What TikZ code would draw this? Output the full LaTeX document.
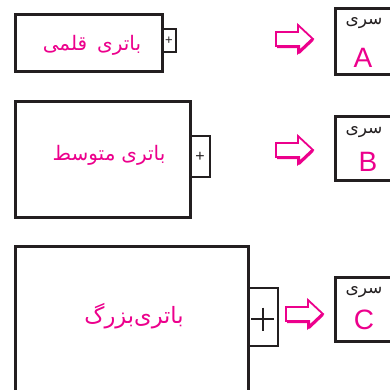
\documentclass[tikz,border=0pt]{standalone}
\usepackage{fontspec}
\setmainfont{Liberation Sans}
\newfontfamily\fa[Script=Arabic]{DejaVu Sans}
\TeXXeTstate=1
\definecolor{pinkc}{RGB}{236,0,140}
\definecolor{inkc}{RGB}{35,31,32}
\tikzset{
  batbox/.style={draw=inkc,line width=3pt},
  termbox/.style={draw=inkc,line width=2.6pt},
  seribox/.style={draw=inkc,line width=3pt},
  pinktext/.style={text=pinkc,font=\fa\fontsize{20}{24}\selectfont,inner sep=0pt},
  seritext/.style={text=inkc,font=\fa\fontsize{17}{20}\selectfont,inner sep=0pt},
  lettertext/.style={text=pinkc,font=\fontsize{28}{30}\selectfont,inner sep=0pt},
  plustext/.style={text=inkc,inner sep=0pt},
  arrowline/.style={draw=pinkc,line width=1.8pt,line join=miter},
  arrowshade/.style={draw=pinkc,line width=3.2pt,line join=miter}
}
\begin{document}
\begin{tikzpicture}[x=1pt,y=-1pt]
\useasboundingbox (0,0) rectangle (390,389);
\clip (0,0) rectangle (390,389);
% batteries
\draw[batbox] (15,14) rectangle (162,71);
\draw[termbox] (162,29) rectangle (176,52);
\node[plustext,font=\fontsize{13}{14}\selectfont] (p1) at (169,40.5) {+};
\node[pinktext] (t1) at (92,45) {\beginR باتری\hspace{10pt}قلمی\endR};

\draw[batbox] (15,101) rectangle (190,217);
\draw[termbox] (190,136) rectangle (210,177);
\node[plustext,font=\fontsize{16}{17}\selectfont] (p2) at (200,157) {+};
\node[pinktext] (t2) at (109,155) {\beginR باتری\hspace{6pt}متوسط\endR};

\draw[batbox] (15,246) rectangle (248,400);
\draw[termbox] (248,288) rectangle (278,346);
\draw[draw=inkc,line width=2pt] (251,319) -- (274,319) (262.5,307.5) -- (262.5,330.5);
\node[pinktext,font=\fa\fontsize{22.5}{26}\selectfont] (t3) at (134,316) {\beginR باتری‌بزرگ\endR};

% arrows
\foreach \ax/\ay in {276/39, 276/150, 286/314}{
  \begin{scope}[shift={(\ax,\ay)}]
    \draw[arrowline] (0,-7) -- (22,-7) -- (22,-14) -- (37,0) -- (22,14) -- (22,7) -- (0,7) -- cycle;
    \draw[arrowshade] (1,7.6) -- (22.6,7.6) -- (22.6,13.2) (22.6,13.6) -- (36.5,0.5);
  \end{scope}
}

% series boxes
\draw[seribox] (335,8) rectangle (400,74);
\node[seritext] (s1) at (364,23) {\beginR سری\endR};
\node[lettertext] (l1) at (363,58) {A};

\draw[seribox] (335,116) rectangle (400,180);
\node[seritext] (s2) at (364,132) {\beginR سری\endR};
\node[lettertext] (l2) at (368,162) {B};

\draw[seribox] (335,277) rectangle (400,341);
\node[seritext] (s3) at (364,292) {\beginR سری\endR};
\node[lettertext] (l3) at (364,320) {C};
\end{tikzpicture}
\end{document}
